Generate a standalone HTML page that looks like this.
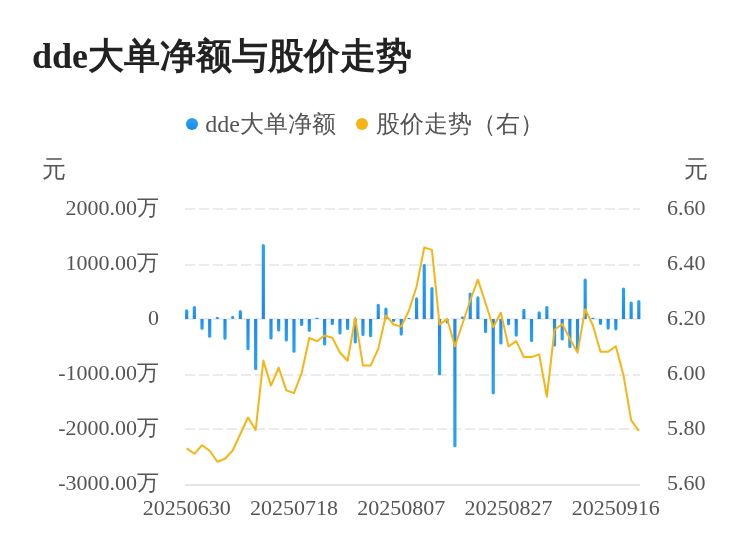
<!DOCTYPE html>
<html><head><meta charset="utf-8">
<style>
html,body{margin:0;padding:0;background:#fff;}
#wrap{position:absolute;left:0;top:0;width:750px;height:558px;will-change:transform;}
body{width:750px;height:558px;overflow:hidden;position:relative;font-family:"Liberation Serif",serif;}
svg{position:absolute;left:0;top:0;}
.ax{font-size:22px;fill:#555;font-family:"Liberation Serif",serif;}
.title{position:absolute;left:32px;top:37.8px;font-size:36px;font-weight:bold;color:#222;white-space:nowrap;line-height:1;}
.leg{position:absolute;font-size:24px;color:#555;white-space:nowrap;line-height:1;}
.dot{position:absolute;width:12px;height:12px;border-radius:50%;}
.unit{position:absolute;font-size:23.5px;color:#555;line-height:1;}
</style></head><body>
<div id="wrap">
<div class="title"><span style="position:relative;top:0.6px">dde</span>大单净额与股价走势</div>
<div class="dot" style="left:186px;top:117.7px;background:linear-gradient(#29A5F2,#1D88EE)"></div>
<div class="leg" style="left:205.2px;top:112px">dde大单净额</div>
<div class="dot" style="left:356.3px;top:117.7px;background:#F8B412"></div>
<div class="leg" style="left:376px;top:112px">股价走势（右）</div>
<div class="unit" style="left:42.3px;top:157.5px">元</div>
<div class="unit" style="left:684.3px;top:157.5px">元</div>
<svg width="750" height="558" viewBox="0 0 750 558">
<defs><linearGradient id="gp" x1="0" y1="0" x2="0" y2="1"><stop offset="0" stop-color="#28A4F2"/><stop offset="1" stop-color="#1D88EE"/></linearGradient><linearGradient id="gn" x1="0" y1="0" x2="0" y2="1"><stop offset="0" stop-color="#1D88EE"/><stop offset="1" stop-color="#28A4F2"/></linearGradient></defs>
<line x1="185" y1="209" x2="640" y2="209" stroke="#ebebeb" stroke-width="2" stroke-dasharray="10 4"/>
<line x1="185" y1="265" x2="640" y2="265" stroke="#ebebeb" stroke-width="2" stroke-dasharray="10 4"/>
<line x1="185" y1="319" x2="640" y2="319" stroke="#ebebeb" stroke-width="2" stroke-dasharray="10 4"/>
<line x1="185" y1="375" x2="640" y2="375" stroke="#ebebeb" stroke-width="2" stroke-dasharray="10 4"/>
<line x1="185" y1="429" x2="640" y2="429" stroke="#ebebeb" stroke-width="2" stroke-dasharray="10 4"/>
<line x1="185" y1="485" x2="640" y2="485" stroke="#e6e6e6" stroke-width="2"/>
<path d="M185.10 318.9 V310.80 A1.6 1.6 0 0 1 188.30 310.80 V318.9 Z" fill="url(#gp)"/>
<path d="M192.76 318.9 V307.50 A1.6 1.6 0 0 1 195.96 307.50 V318.9 Z" fill="url(#gp)"/>
<path d="M200.43 318.9 V328.20 A1.6 1.6 0 0 0 203.63 328.20 V318.9 Z" fill="url(#gn)"/>
<path d="M208.09 318.9 V336.20 A1.6 1.6 0 0 0 211.29 336.20 V318.9 Z" fill="url(#gn)"/>
<rect x="215.75" y="317.00" width="3.2" height="1.90" rx="0.95" fill="url(#gp)"/>
<path d="M223.41 318.9 V338.20 A1.6 1.6 0 0 0 226.61 338.20 V318.9 Z" fill="url(#gn)"/>
<rect x="231.08" y="316.10" width="3.2" height="2.80" rx="1.40" fill="url(#gp)"/>
<path d="M238.74 318.9 V311.70 A1.6 1.6 0 0 1 241.94 311.70 V318.9 Z" fill="url(#gp)"/>
<path d="M246.40 318.9 V348.70 A1.6 1.6 0 0 0 249.60 348.70 V318.9 Z" fill="url(#gn)"/>
<path d="M254.07 318.9 V368.60 A1.6 1.6 0 0 0 257.27 368.60 V318.9 Z" fill="url(#gn)"/>
<path d="M261.73 318.9 V245.60 A1.6 1.6 0 0 1 264.93 245.60 V318.9 Z" fill="url(#gp)"/>
<path d="M269.39 318.9 V338.00 A1.6 1.6 0 0 0 272.59 338.00 V318.9 Z" fill="url(#gn)"/>
<path d="M277.06 318.9 V329.90 A1.6 1.6 0 0 0 280.26 329.90 V318.9 Z" fill="url(#gn)"/>
<path d="M284.72 318.9 V340.00 A1.6 1.6 0 0 0 287.92 340.00 V318.9 Z" fill="url(#gn)"/>
<path d="M292.38 318.9 V351.20 A1.6 1.6 0 0 0 295.58 351.20 V318.9 Z" fill="url(#gn)"/>
<path d="M300.04 318.9 V324.50 A1.6 1.6 0 0 0 303.24 324.50 V318.9 Z" fill="url(#gn)"/>
<path d="M307.71 318.9 V330.30 A1.6 1.6 0 0 0 310.91 330.30 V318.9 Z" fill="url(#gn)"/>
<rect x="315.37" y="317.70" width="3.2" height="1.20" rx="0.60" fill="url(#gp)"/>
<path d="M323.03 318.9 V344.00 A1.6 1.6 0 0 0 326.23 344.00 V318.9 Z" fill="url(#gn)"/>
<path d="M330.70 318.9 V323.60 A1.6 1.6 0 0 0 333.90 323.60 V318.9 Z" fill="url(#gn)"/>
<path d="M338.36 318.9 V333.00 A1.6 1.6 0 0 0 341.56 333.00 V318.9 Z" fill="url(#gn)"/>
<path d="M346.02 318.9 V328.50 A1.6 1.6 0 0 0 349.22 328.50 V318.9 Z" fill="url(#gn)"/>
<path d="M353.69 318.9 V342.00 A1.6 1.6 0 0 0 356.89 342.00 V318.9 Z" fill="url(#gn)"/>
<path d="M361.35 318.9 V334.50 A1.6 1.6 0 0 0 364.55 334.50 V318.9 Z" fill="url(#gn)"/>
<path d="M369.01 318.9 V335.70 A1.6 1.6 0 0 0 372.21 335.70 V318.9 Z" fill="url(#gn)"/>
<path d="M376.67 318.9 V305.30 A1.6 1.6 0 0 1 379.87 305.30 V318.9 Z" fill="url(#gp)"/>
<path d="M384.34 318.9 V309.00 A1.6 1.6 0 0 1 387.54 309.00 V318.9 Z" fill="url(#gp)"/>
<path d="M392.00 318.9 V320.50 A1.6 1.6 0 0 0 395.20 320.50 V318.9 Z" fill="url(#gn)"/>
<path d="M399.66 318.9 V334.10 A1.6 1.6 0 0 0 402.86 334.10 V318.9 Z" fill="url(#gn)"/>
<rect x="407.33" y="318.00" width="3.2" height="0.90" rx="0.45" fill="url(#gp)"/>
<path d="M414.99 318.9 V298.90 A1.6 1.6 0 0 1 418.19 298.90 V318.9 Z" fill="url(#gp)"/>
<path d="M422.65 318.9 V265.40 A1.6 1.6 0 0 1 425.85 265.40 V318.9 Z" fill="url(#gp)"/>
<path d="M430.32 318.9 V288.60 A1.6 1.6 0 0 1 433.52 288.60 V318.9 Z" fill="url(#gp)"/>
<path d="M437.98 318.9 V373.70 A1.6 1.6 0 0 0 441.18 373.70 V318.9 Z" fill="url(#gn)"/>
<path d="M445.64 318.9 V322.00 A1.6 1.6 0 0 0 448.84 322.00 V318.9 Z" fill="url(#gn)"/>
<path d="M453.30 318.9 V445.70 A1.6 1.6 0 0 0 456.50 445.70 V318.9 Z" fill="url(#gn)"/>
<rect x="460.97" y="316.40" width="3.2" height="2.50" rx="1.25" fill="url(#gp)"/>
<path d="M468.63 318.9 V294.10 A1.6 1.6 0 0 1 471.83 294.10 V318.9 Z" fill="url(#gp)"/>
<path d="M476.29 318.9 V297.90 A1.6 1.6 0 0 1 479.49 297.90 V318.9 Z" fill="url(#gp)"/>
<path d="M483.96 318.9 V331.60 A1.6 1.6 0 0 0 487.16 331.60 V318.9 Z" fill="url(#gn)"/>
<path d="M491.62 318.9 V392.80 A1.6 1.6 0 0 0 494.82 392.80 V318.9 Z" fill="url(#gn)"/>
<path d="M499.28 318.9 V342.90 A1.6 1.6 0 0 0 502.48 342.90 V318.9 Z" fill="url(#gn)"/>
<path d="M506.95 318.9 V323.80 A1.6 1.6 0 0 0 510.15 323.80 V318.9 Z" fill="url(#gn)"/>
<path d="M514.61 318.9 V335.10 A1.6 1.6 0 0 0 517.81 335.10 V318.9 Z" fill="url(#gn)"/>
<path d="M522.27 318.9 V310.40 A1.6 1.6 0 0 1 525.47 310.40 V318.9 Z" fill="url(#gp)"/>
<path d="M529.94 318.9 V340.40 A1.6 1.6 0 0 0 533.14 340.40 V318.9 Z" fill="url(#gn)"/>
<path d="M537.60 318.9 V312.90 A1.6 1.6 0 0 1 540.80 312.90 V318.9 Z" fill="url(#gp)"/>
<path d="M545.26 318.9 V307.60 A1.6 1.6 0 0 1 548.46 307.60 V318.9 Z" fill="url(#gp)"/>
<path d="M552.92 318.9 V345.10 A1.6 1.6 0 0 0 556.12 345.10 V318.9 Z" fill="url(#gn)"/>
<path d="M560.59 318.9 V339.00 A1.6 1.6 0 0 0 563.79 339.00 V318.9 Z" fill="url(#gn)"/>
<path d="M568.25 318.9 V346.40 A1.6 1.6 0 0 0 571.45 346.40 V318.9 Z" fill="url(#gn)"/>
<path d="M575.91 318.9 V349.50 A1.6 1.6 0 0 0 579.11 349.50 V318.9 Z" fill="url(#gn)"/>
<path d="M583.58 318.9 V280.20 A1.6 1.6 0 0 1 586.78 280.20 V318.9 Z" fill="url(#gp)"/>
<rect x="591.24" y="317.80" width="3.2" height="1.10" rx="0.55" fill="url(#gp)"/>
<path d="M598.90 318.9 V323.40 A1.6 1.6 0 0 0 602.10 323.40 V318.9 Z" fill="url(#gn)"/>
<path d="M606.56 318.9 V328.10 A1.6 1.6 0 0 0 609.76 328.10 V318.9 Z" fill="url(#gn)"/>
<path d="M614.23 318.9 V328.80 A1.6 1.6 0 0 0 617.43 328.80 V318.9 Z" fill="url(#gn)"/>
<path d="M621.89 318.9 V289.00 A1.6 1.6 0 0 1 625.09 289.00 V318.9 Z" fill="url(#gp)"/>
<path d="M629.55 318.9 V303.10 A1.6 1.6 0 0 1 632.75 303.10 V318.9 Z" fill="url(#gp)"/>
<path d="M637.22 318.9 V301.50 A1.6 1.6 0 0 1 640.42 301.50 V318.9 Z" fill="url(#gp)"/>
<polyline points="186.70,448.4 194.36,453.8 202.03,445.2 209.69,450.8 217.35,461.8 225.01,458.8 232.68,450.5 240.34,434 248.00,417.5 255.67,430 263.33,360.6 270.99,385.6 278.66,367.6 286.32,390.4 293.98,393.1 301.64,373 309.31,338 316.97,341.2 324.63,335.5 332.30,337.8 339.96,352.5 347.62,360.8 355.29,317.8 362.95,365.6 370.61,365.6 378.27,348.9 385.94,315.3 393.60,324.5 401.26,326.6 408.93,310.5 416.59,286.5 424.25,247.5 431.92,249.9 439.58,324.6 447.24,318.9 454.90,346.3 462.57,323.5 470.23,300.5 477.89,279.6 485.56,303.2 493.22,327.3 500.88,312.7 508.55,346.5 516.21,341.1 523.87,357.0 531.54,357.1 539.20,354.4 546.86,396.8 554.52,329.8 562.19,324.0 569.85,338.6 577.51,352.6 585.18,309.2 592.84,325.3 600.50,351.7 608.16,351.7 615.83,346.2 623.49,375.2 631.15,420.2 638.82,431.0" fill="none" stroke="#F8B412" stroke-width="2" stroke-linejoin="round" stroke-linecap="butt"/>
<text x="159" y="207.4" text-anchor="end" dominant-baseline="central" class="ax">2000.00万</text>
<text x="159" y="262.5" text-anchor="end" dominant-baseline="central" class="ax">1000.00万</text>
<text x="159" y="317.6" text-anchor="end" dominant-baseline="central" class="ax">0</text>
<text x="159" y="372.7" text-anchor="end" dominant-baseline="central" class="ax">-1000.00万</text>
<text x="159" y="427.8" text-anchor="end" dominant-baseline="central" class="ax">-2000.00万</text>
<text x="159" y="482.9" text-anchor="end" dominant-baseline="central" class="ax">-3000.00万</text>
<text x="667" y="207.4" text-anchor="start" dominant-baseline="central" class="ax">6.60</text>
<text x="667" y="262.5" text-anchor="start" dominant-baseline="central" class="ax">6.40</text>
<text x="667" y="317.6" text-anchor="start" dominant-baseline="central" class="ax">6.20</text>
<text x="667" y="372.7" text-anchor="start" dominant-baseline="central" class="ax">6.00</text>
<text x="667" y="427.8" text-anchor="start" dominant-baseline="central" class="ax">5.80</text>
<text x="667" y="482.9" text-anchor="start" dominant-baseline="central" class="ax">5.60</text>
<text x="186.70" y="507" text-anchor="middle" dominant-baseline="central" class="ax">20250630</text>
<text x="293.98" y="507" text-anchor="middle" dominant-baseline="central" class="ax">20250718</text>
<text x="401.26" y="507" text-anchor="middle" dominant-baseline="central" class="ax">20250807</text>
<text x="508.55" y="507" text-anchor="middle" dominant-baseline="central" class="ax">20250827</text>
<text x="615.83" y="507" text-anchor="middle" dominant-baseline="central" class="ax">20250916</text>
</svg>
</div>
</body></html>
